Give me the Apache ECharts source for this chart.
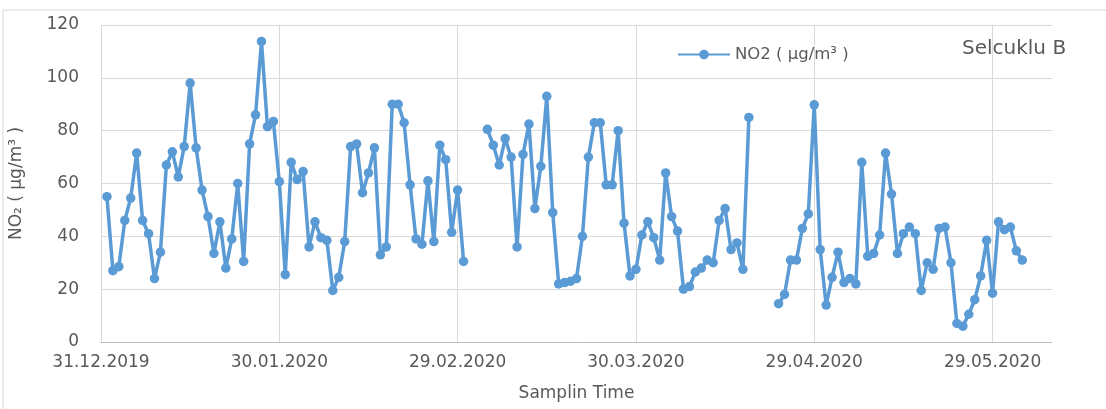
<!DOCTYPE html>
<html>
<head>
<meta charset="utf-8">
<script src="https://cdn.jsdelivr.net/npm/echarts@6/dist/echarts.min.js"></script>
<style>html,body{margin:0;padding:0;background:#fff;}#c{width:1106px;height:409px;}</style>
</head>
<body>
<div id="c"></div>
<script>
// Tick labels on the date axis (every 30 days from 31.12.2019)
var tickLabels = ['31.12.2019', '30.01.2020', '29.02.2020', '30.03.2020', '29.04.2020', '29.05.2020'];
// Daily NO2 values from 01.01.2020 (day 1) to 03.06.2020 (day 155); null = missing
var no2 = [
  55, 27, 28.5, 46, 54.5, 71.5, 46, 41, 24, 34,
  67, 72, 62.5, 74, 98, 73.5, 57.5, 47.5, 33.5, 45.5,
  28, 39, 60, 30.5, 75, 86, 113.8, 81.5, 83.5, 60.7,
  25.5, 68, 61.5, 64.5, 36, 45.5, 39.5, 38.5, 19.5, 24.5,
  38, 74, 75, 56.5, 64, 73.5, 33, 36, 90, 90,
  83, 59.5, 39, 37, 61, 38, 74.5, 69, 41.5, 57.5,
  30.5, null, null, null, 80.5, 74.5, 67, 77, 70, 36,
  71, 82.5, 50.5, 66.5, 93, 49, 22, 22.5, 23, 24,
  40, 70, 83, 83, 59.5, 59.5, 80, 45, 25, 27.5,
  40.5, 45.5, 39.5, 31, 64, 47.5, 42, 20, 21, 26.5,
  28, 31, 30, 46, 50.5, 35, 37.5, 27.5, 85, null,
  null, null, null, 14.5, 18, 31, 31, 43, 48.5, 89.8,
  35, 14, 24.5, 34, 22.5, 24, 22, 68, 32.5, 33.5,
  40.5, 71.5, 56, 33.5, 41, 43.5, 41, 19.5, 30, 27.5,
  43, 43.5, 30, 7, 6, 10.5, 16, 25, 38.5, 18.5,
  45.5, 42.5, 43.5, 34.5, 31
];
var seriesName = 'NO2 ( µg/m³ )';
var stationName = 'Selcuklu B';

var FONT = 'DejaVu Sans';
var TXT = '#595959';
var chart = echarts.init(document.getElementById('c'));
chart.setOption({
  animation: false,
  backgroundColor: '#fff',
  grid: { left: 100, right: 54, top: 25, bottom: 67 },
  legend: {
    data: [seriesName],
    left: 672, top: 41,
    itemWidth: 52, itemHeight: 12,
    itemGap: 4,
    textStyle: { fontFamily: FONT, fontSize: 16.5, color: TXT }
  },
  graphic: [
    { type: 'rect', shape: { x: 3, y: 10, width: 1120, height: 420 }, style: { fill: 'none', stroke: '#d9d9d9', lineWidth: 1 }, silent: true, z: -1 },
    { type: 'text', left: 962, top: 39, style: { text: stationName, font: '20px "DejaVu Sans"', fill: TXT } }
  ],
  xAxis: {
    type: 'value', min: 0, max: 160, interval: 30,
    name: 'Samplin Time', nameLocation: 'middle', nameGap: 43,
    nameTextStyle: { fontFamily: FONT, fontSize: 17, color: TXT },
    axisLine: { show: true, lineStyle: { color: '#bfbfbf', width: 1 } },
    axisTick: { show: false },
    axisLabel: {
      margin: 12, fontFamily: FONT, fontSize: 17, color: TXT, showMaxLabel: false,
      alignMinLabel: 'center',
      formatter: function (v) { return tickLabels[v / 30] || ''; }
    },
    splitLine: { show: true, showMaxLine: false, lineStyle: { color: '#d9d9d9', width: 1 } }
  },
  yAxis: {
    type: 'value', min: 0, max: 120, interval: 20,
    name: 'NO₂ ( µg/m³ )', nameLocation: 'middle', nameGap: 76, nameRotate: 90,
    nameTextStyle: { fontFamily: FONT, fontSize: 17, color: TXT },
    axisLine: { show: false },
    axisTick: { show: false },
    axisLabel: { margin: 22, fontFamily: FONT, fontSize: 17, color: TXT },
    splitLine: { show: true, lineStyle: { color: '#d9d9d9', width: 1 } }
  },
  series: [{
    name: seriesName,
    type: 'line',
    data: no2.map(function (v, i) { return [i + 1, v]; }),
    connectNulls: false,
    symbol: 'circle', symbolSize: 9.5,
    showAllSymbol: true,
    itemStyle: { color: '#5b9bd5' },
    lineStyle: { color: '#5b9bd5', width: 3.5 }
  }]
});
</script>
</body>
</html>
